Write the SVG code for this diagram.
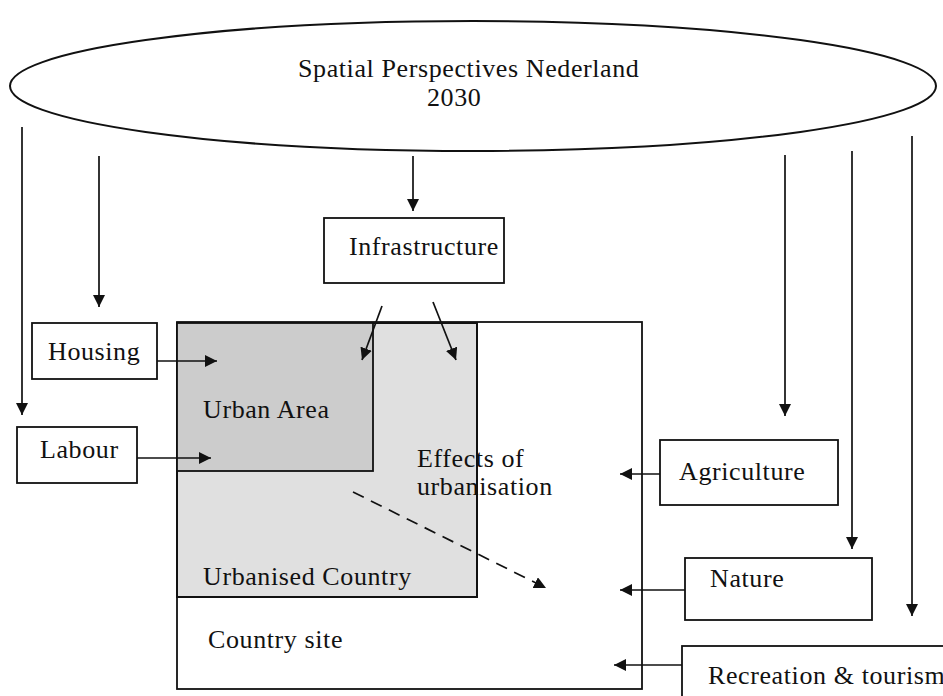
<svg xmlns="http://www.w3.org/2000/svg" width="943" height="696" viewBox="0 0 943 696">
  <defs>
    <style>
      .lbl { font-family: "Liberation Serif", "Times New Roman", serif; font-size: 26px; letter-spacing: 0.6px; fill: #111; }
      .box { fill: #fff; stroke: #111; stroke-width: 1.8; }
      .link { stroke: #111; stroke-width: 1.7; fill: none; marker-end: url(#head); }
      .dash { stroke-dasharray: 12 8; }
    </style>
    <marker id="head" markerUnits="userSpaceOnUse" markerWidth="13" markerHeight="12" refX="12" refY="6" orient="auto">
      <path d="M0,0 L12,6 L0,12 z" fill="#111"/>
    </marker>
  </defs>

  <rect width="943" height="696" fill="#fff"/>

  <!-- Top-level plan -->
  <g id="spatial-perspectives">
    <ellipse cx="473" cy="86" rx="463" ry="65" fill="#fff" stroke="#111" stroke-width="2"/>
    <text class="lbl" x="298" y="77">Spatial Perspectives Nederland</text>
    <text class="lbl" x="427" y="106">2030</text>
  </g>

  <!-- Nested areas -->
  <g id="country-site">
    <rect x="177" y="322" width="465" height="367" class="box"/>
    <text class="lbl" x="208" y="648">Country site</text>
  </g>
  <g id="urbanised-country">
    <rect x="177" y="323" width="300" height="274" fill="#e0e0e0" stroke="#111" stroke-width="2"/>
    <text class="lbl" x="203" y="585">Urbanised Country</text>
  </g>
  <g id="urban-area">
    <rect x="177" y="323" width="196" height="148" fill="#cccccc" stroke="#111" stroke-width="1.8"/>
    <text class="lbl" x="203" y="418">Urban Area</text>
  </g>
  <g id="effects">
    <text class="lbl" x="417" y="467">Effects of</text>
    <text class="lbl" x="417" y="495">urbanisation</text>
  </g>

  <!-- Sector boxes -->
  <g id="infrastructure">
    <rect x="324" y="218" width="180" height="65" class="box"/>
    <text class="lbl" x="349" y="255">Infrastructure</text>
  </g>
  <g id="housing">
    <rect x="32" y="323" width="125" height="56" class="box"/>
    <text class="lbl" x="48" y="360">Housing</text>
  </g>
  <g id="labour">
    <rect x="17" y="427" width="120" height="56" class="box"/>
    <text class="lbl" x="40" y="458">Labour</text>
  </g>
  <g id="agriculture">
    <rect x="660" y="440" width="178" height="65" class="box"/>
    <text class="lbl" x="679" y="480">Agriculture</text>
  </g>
  <g id="nature">
    <rect x="685" y="558" width="187" height="62" class="box"/>
    <text class="lbl" x="710" y="587">Nature</text>
  </g>
  <g id="recreation">
    <rect x="682" y="646" width="280" height="70" class="box"/>
    <text class="lbl" x="708" y="684">Recreation &amp; tourism</text>
  </g>

  <!-- Connectors -->
  <g id="connectors">
    <line class="link" x1="22" y1="127" x2="22" y2="415"/>
    <line class="link" x1="99" y1="156" x2="99" y2="307"/>
    <line class="link" x1="413" y1="156" x2="413" y2="211"/>
    <line class="link" x1="785" y1="155" x2="785" y2="416"/>
    <line class="link" x1="852" y1="151" x2="852" y2="549"/>
    <line class="link" x1="912" y1="136" x2="912" y2="616"/>

    <line class="link" x1="157" y1="361" x2="217" y2="361"/>
    <line class="link" x1="137" y1="458" x2="211" y2="458"/>

    <line class="link" x1="382" y1="306" x2="362" y2="360"/>
    <line class="link" x1="433" y1="302" x2="456" y2="360"/>

    <line class="link dash" x1="353" y1="492" x2="546" y2="588"/>

    <line class="link" x1="660" y1="474" x2="620" y2="474"/>
    <line class="link" x1="685" y1="590" x2="620" y2="590"/>
    <line class="link" x1="682" y1="665" x2="614" y2="665"/>
  </g>
</svg>
